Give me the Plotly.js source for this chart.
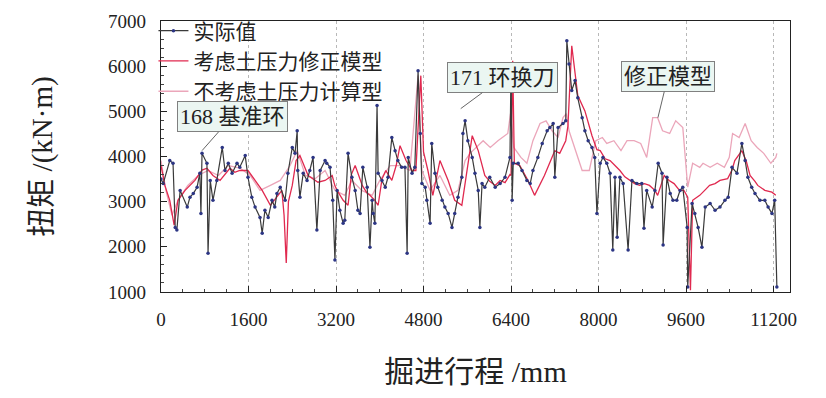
<!DOCTYPE html>
<html><head><meta charset="utf-8">
<script src="https://cdn.plot.ly/plotly-3.0.1.min.js"></script>
<style>html,body{margin:0;padding:0;background:#fff}#c{width:826px;height:398px}</style>
</head><body><div id="c"></div>
<script>
// 实际值
const actualX = [0,40,160,220,260,290,350,480,530,590,660,710,730,750,840,860,900,950,1020,1120,1170,1230,1300,1390,1440,1540,1590,1660,1720,1810,1850,1900,1960,2030,2080,2120,2180,2270,2320,2400,2450,2490,2500,2540,2600,2670,2720,2780,2850,2910,3000,3030,3090,3140,3180,3220,3270,3330,3360,3420,3490,3550,3600,3640,3690,3770,3820,3860,3880,3910,3950,3970,4040,4100,4150,4220,4280,4330,4400,4460,4500,4520,4590,4640,4700,4740,4770,4830,4860,4920,4950,5010,5060,5140,5190,5250,5320,5370,5430,5500,5520,5560,5610,5690,5740,5800,5830,5870,5920,6010,6110,6200,6290,6380,6400,6420,6440,6530,6600,6690,6750,6800,6890,6970,7060,7110,7170,7200,7260,7350,7400,7420,7460,7510,7570,7620,7700,7750,7810,7880,7930,7970,8030,8080,8150,8210,8260,8300,8340,8390,8450,8540,8610,8700,8790,8830,8880,8980,9030,9090,9160,9180,9250,9310,9360,9430,9490,9540,9620,9630,9710,9760,9820,9890,9950,10040,10130,10220,10310,10370,10440,10530,10620,10680,10730,10800,10860,10950,11040,11100,11170,11220,11260];
const actualY = [3500,3400,3910,3850,2430,2370,3250,2880,3100,3180,3320,3630,2740,4070,3850,1860,3470,3030,3470,4200,3690,3850,3630,3850,3760,4020,3540,3100,2880,2650,2300,2810,2650,3030,2880,3180,3320,3030,3630,4200,4070,4570,3690,3100,3630,3470,3690,3980,2370,3690,3910,3850,3760,3030,1710,3250,2810,2520,2590,4070,3540,3250,2810,2740,3760,3320,1990,3030,2740,2520,5130,3630,3470,3320,3540,4420,4130,3910,3760,3760,1860,3980,3630,3760,5900,4510,3400,3320,3030,2520,4290,3630,3320,3030,2880,2740,2430,2740,3100,3540,4510,4790,4350,3980,3630,3250,2430,3400,3320,3540,3320,3400,3540,3980,6050,3030,3850,3850,3690,3470,3400,3690,3980,4290,4570,4640,4730,3540,4640,4730,4790,6560,6050,5460,5680,5300,4860,4570,4350,4200,3980,2740,3850,3980,3850,3630,1930,3540,2210,3540,3400,1930,3470,3400,3400,2410,3250,2880,3250,3850,3630,2040,3540,3180,3030,3030,3250,3320,2430,1110,2960,2740,2430,1990,2880,2960,2810,2880,3030,3100,3760,3630,4290,3910,3540,3320,3180,3030,3030,2880,2740,3030,1110];
// 考虑土压力修正模型
const corrX = [0,70,160,240,310,440,620,750,840,950,1080,1170,1260,1350,1440,1590,1720,1850,2000,2140,2210,2250,2290,2330,2400,2470,2540,2690,2780,2870,3000,3130,3180,3220,3330,3420,3480,3550,3680,3760,3820,3910,3970,4040,4110,4220,4300,4370,4480,4590,4660,4700,4750,4800,4880,4970,5040,5100,5250,5370,5500,5570,5690,5800,5920,6010,6110,6200,6290,6380,6400,6430,6460,6560,6710,6830,7010,7200,7290,7400,7440,7510,7620,7750,7880,7970,8030,8120,8210,8300,8390,8480,8570,8660,8750,8840,8930,9030,9080,9200,9290,9380,9480,9560,9630,9680,9720,9850,9940,10030,10130,10220,10360,10440,10490,10620,10700,10770,10860,10910,11040,11170,11240];
const corrY = [3800,3360,3030,2480,3030,3250,3470,3700,3740,3580,3470,3600,3740,3650,3690,3690,3470,3250,2920,3140,3250,2700,1640,3000,3360,3910,4020,3580,3500,3430,3470,3580,3350,3250,3030,2920,3600,3800,3360,3200,3140,3030,2920,3500,3690,3470,3800,4240,3910,3690,3690,4790,5790,4100,3690,3140,3600,3910,3470,3030,2920,3470,4460,4130,3580,3450,3360,3470,3420,3600,3580,6120,3850,3800,3470,3140,3580,4130,4070,4350,4680,6450,5350,5010,4460,4150,4130,3950,3910,3800,3690,3550,3470,3400,3360,3400,3360,3250,3140,3580,3470,3400,3250,3250,3100,1040,3030,3140,3250,3360,3400,3470,3510,3700,3910,4130,3900,3580,3450,3360,3250,3210,3140];
// 不考虑土压力计算型
const rawX = [0,90,200,310,490,680,860,1050,1230,1450,1630,1810,2000,2180,2360,2490,2640,2820,3000,3180,3360,3490,3670,3860,4000,4190,4370,4550,4700,4770,4920,5100,5280,5430,5560,5650,5890,6020,6160,6340,6390,6450,6580,6690,6800,6930,7040,7150,7260,7350,7410,7460,7700,7830,7950,8070,8150,8280,8410,8520,8650,8770,8880,8990,9080,9170,9300,9410,9540,9630,9720,9850,9910,10040,10170,10300,10390,10450,10570,10680,10790,10900,11020,11150,11240,11260];
const rawY = [3910,3250,2700,3030,3360,3580,3690,3580,3800,3740,3580,3250,3360,3470,3800,4130,3580,3510,3690,3250,3140,3470,3250,3140,3470,3800,3800,3690,5790,3690,3250,3580,3140,3250,3910,4070,4350,4200,4350,4510,4950,4200,3980,3850,4350,4730,4790,4570,4420,4860,4950,4570,3690,3690,4350,4420,4290,4350,4130,4350,4350,4290,3980,4860,4860,4570,4510,4790,4640,3320,3850,3760,3850,3760,3850,3760,3980,4510,4420,4730,4350,4200,4070,3850,3980,4070];
// ticks
const xTicks = [0,1600,3200,4800,6400,8000,9600,11200];
const yTicks = [1000,2000,3000,4000,5000,6000,7000];
const seriesNames = ['实际值','考虑土压力修正模型','不考虑土压力计算型'];
const notes = [
  {text:'168 基准环', x:750, y:4130, ax:30, ay:-34},
  {text:'171 环换刀', x:5480, y:5060, ax:42, ay:-31},
  {text:'修正模型', x:9085, y:4860, ax:10, ay:-41}
];

const serif = '"Liberation Serif", "Noto Sans CJK SC", serif';
const traces = [
  {x:rawX, y:rawY, name:seriesNames[2], legendrank:3, mode:'lines', type:'scatter',
   line:{color:'#eba6ba', width:1.3}},
  {x:corrX, y:corrY, name:seriesNames[1], legendrank:2, mode:'lines', type:'scatter',
   line:{color:'#e0294f', width:1.3}},
  {x:actualX, y:actualY, name:seriesNames[0], legendrank:1, mode:'lines+markers', type:'scatter',
   line:{color:'#3a3a3a', width:1.2}, marker:{color:'#2c3584', size:3.5}}
];
const layout = {
  width:826, height:398,
  margin:{l:161, r:36, t:20, b:106},
  paper_bgcolor:'#fff', plot_bgcolor:'#fff',
  font:{family:serif, size:19, color:'#222'},
  showlegend:true,
  legend:{x:-0.012, y:1.035, xanchor:'left', yanchor:'top', bgcolor:'rgba(255,255,255,0)',
          font:{family:serif, size:21, color:'#222'}, tracegroupgap:0, itemwidth:30},
  xaxis:{range:[0,11500], tickvals:xTicks, ticktext:xTicks.map(String),
         showline:true, linecolor:'#222', linewidth:1.2, mirror:true,
         ticks:'inside', ticklen:6, tickcolor:'#222',
         minor:{dtick:400, tick0:0, ticks:'inside', ticklen:3, tickcolor:'#444', showgrid:false},
         showgrid:true, gridcolor:'#b8b8b8', griddash:'dot', gridwidth:1,
         zeroline:false, ticklabelstandoff:10,
         title:{text:'掘进行程 /mm', font:{family:serif, size:30, color:'#222'}, standoff:32}},
  yaxis:{range:[1000,7000], tickvals:yTicks, ticktext:yTicks.map(String),
         showline:true, linecolor:'#222', linewidth:1.2, mirror:true,
         ticks:'inside', ticklen:6, tickcolor:'#222',
         minor:{dtick:200, ticks:'inside', ticklen:3, tickcolor:'#444', showgrid:false},
         showgrid:false, zeroline:false, ticklabelstandoff:10,
         title:{text:'扭矩 /(kN·m)', font:{family:serif, size:29, color:'#222'}, standoff:46}},
  annotations: notes.map(n => ({
    x:n.x, y:n.y, xref:'x', yref:'y', text:n.text, showarrow:true,
    ax:n.ax, ay:n.ay, arrowhead:0, arrowwidth:1, arrowcolor:'#666',
    bgcolor:'#ebf6f2', bordercolor:'#808080', borderwidth:1, borderpad:2,
    font:{family:serif, size:22, color:'#222'}
  }))
};
Plotly.newPlot('c', traces, layout, {displayModeBar:false, staticPlot:true});
</script></body></html>
